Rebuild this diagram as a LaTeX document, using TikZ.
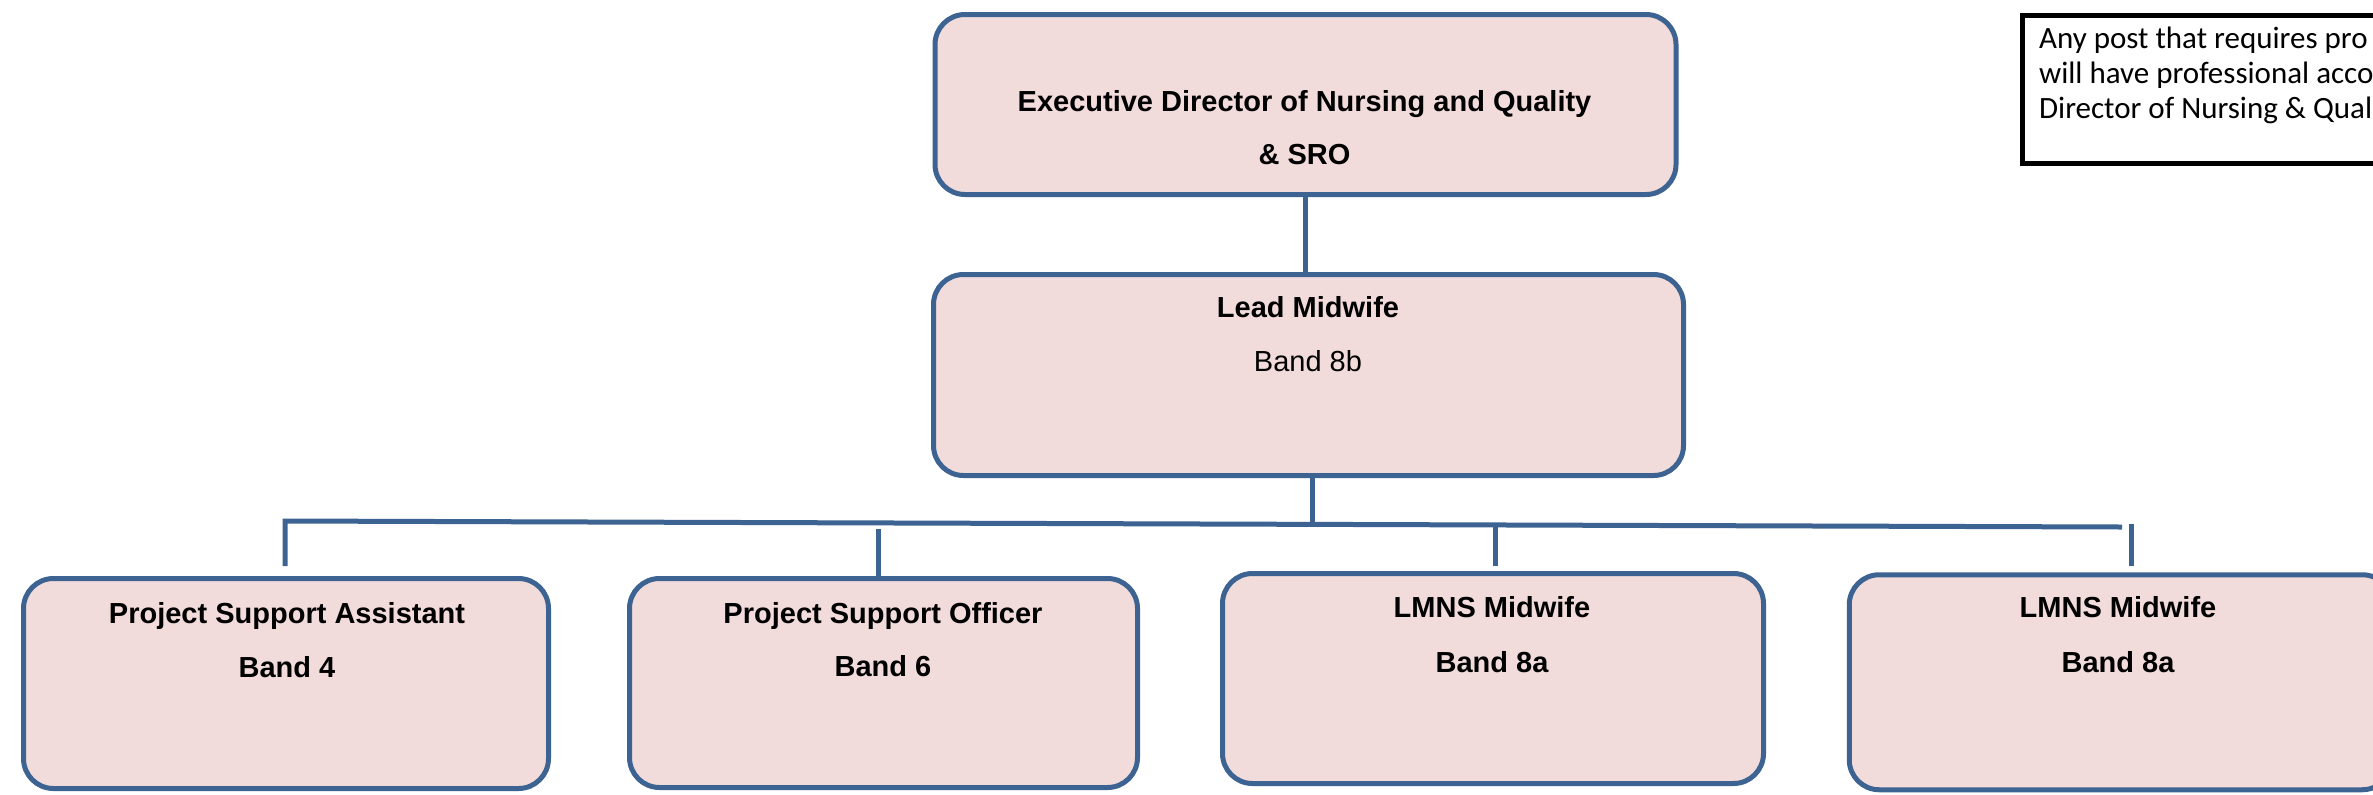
\documentclass[tikz,border=0pt]{standalone}
\usepackage{fontspec}
\setmainfont{Liberation Sans}
\newfontfamily\notefont{Carlito}

\definecolor{postfill}{HTML}{F2DCDB}
\definecolor{postline}{HTML}{3C6391}

\begin{document}
\begin{tikzpicture}[x=0.5pt,y=-0.5pt,
    post/.style={rectangle, rounded corners=15pt, draw=postline, fill=postfill, line width=2.5pt, inner sep=0pt},
    role/.style={anchor=base, font=\fontsize{14.5pt}{17pt}\selectfont\bfseries},
    band/.style={anchor=base, font=\fontsize{14.5pt}{17pt}\selectfont},
    noteline/.style={anchor=base west, font=\fontsize{15.5pt}{17.5pt}\selectfont\notefont},
    link/.style={draw=postline, line width=2.5pt}]
  \useasboundingbox (0,0) rectangle (2373,794);

  % the boxes
  \node[post, minimum width=370.5pt, minimum height=90pt] (exec) at (1305.5,104.5) {};
  \node[post, minimum width=375pt, minimum height=100.5pt] (lead) at (1308.5,375) {};
  \node[post, minimum width=262.5pt, minimum height=105pt] (psa) at (286,683.5) {};
  \node[post, minimum width=254pt, minimum height=104.5pt] (pso) at (883.5,683) {};
  \node[post, minimum width=270.5pt, minimum height=105pt] (lmnsa) at (1493,678.5) {};
  \node[post, minimum width=271.5pt, minimum height=107.5pt] (lmnsb) at (2120.75,682.25) {};

  % their texts
  \node[role] (execa) at (1304.5,111) {Executive Director of Nursing and Quality};
  \node[role] (execb) at (1304.5,164) {\& SRO};
  \node[role] (leada) at (1308,317) {Lead Midwife};
  \node[band] (leadb) at (1308,371) {Band 8b};
  \node[role] (psaa) at (287,623) {Project Support Assistant};
  \node[role] (psab) at (287,677) {Band 4};
  \node[role] (psoa) at (883,623) {Project Support Officer};
  \node[role] (psob) at (883,676) {Band 6};
  \node[role] (lmnsaa) at (1492,617) {LMNS Midwife};
  \node[role] (lmnsab) at (1492,672) {Band 8a};
  \node[role] (lmnsba) at (2118,617) {LMNS Midwife};
  \node[role] (lmnsbb) at (2118,672) {Band 8a};

  % note in the corner
  \node[draw, line width=2.5pt, anchor=north west, inner sep=0pt, minimum width=240.25pt, minimum height=74pt] (note) at (2019.5,12.5) {};
  \node[noteline] (notea) at (2032,48) {Any post that requires pro};
  \node[noteline] (noteb) at (2032,83) {will have professional acco};
  \node[noteline] (notec) at (2032,118) {Director of Nursing \& Qual};

  % connectors
  \coordinate (busL) at (285,521);
  \coordinate (busR) at (2122,527);
  \coordinate (busM) at (1312,524);
  \coordinate (psaTop) at (285,566);
  \coordinate (psoTop) at (878,529);
  \coordinate (lmnsaTop) at (1495,524);
  \coordinate (lmnsbTop) at (2131,524);
  \draw[link] (exec.south) -- (exec.south |- lead.north);
  \draw[link] (lead.south -| busM) -- (busM);
  \draw[link] (psaTop) -- (busL) -- (busR);
  \draw[link] (psoTop) -- (psoTop |- pso.north);
  \draw[link] (lmnsaTop) -- ++(0,42);
  \draw[link] (lmnsbTop) -- ++(0,42);
\end{tikzpicture}
\end{document}
